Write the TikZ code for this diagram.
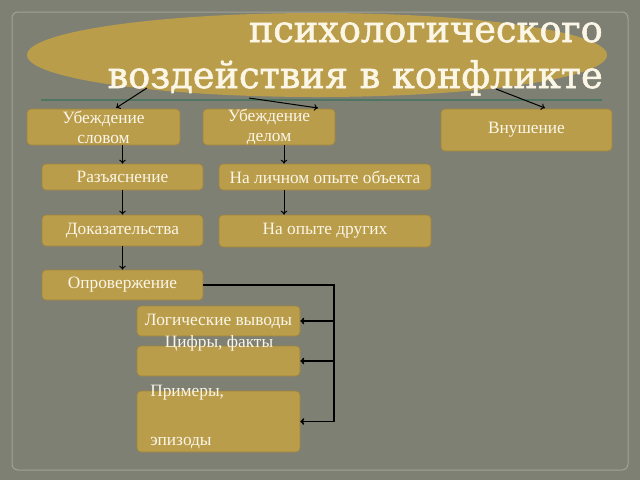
\documentclass[tikz,border=0pt]{standalone}
\usepackage{fontspec}
\setmainfont{Liberation Serif}
\newfontfamily\titlefont[FakeBold=1.6]{DejaVu Serif}
\usetikzlibrary{arrows.meta,shadows,calc,shapes.geometric}
\newlength\px
\setlength\px{0.75pt}
\definecolor{bgcol}{HTML}{7F8074}
\definecolor{framecol}{HTML}{A2A397}
\definecolor{gold}{HTML}{BA9D4B}
\definecolor{golddark}{HTML}{A08338}
\definecolor{cream}{HTML}{FBF6E6}
\definecolor{rulecol}{HTML}{4F7563}
\tikzset{
  plate/.style={rectangle,rounded corners=4\px,fill=gold,draw=golddark,
    drop shadow={shadow xshift=1\px,shadow yshift=-1.5\px,opacity=.35},
    text=cream,font=\fontsize{13}{15}\selectfont,align=center,inner sep=0pt},
  caption/.style={text=cream,font=\fontsize{13}{15}\selectfont,inner sep=0pt},
  link/.style={black,line width=1\px,-{To[length=3pt,width=5pt]}},
  bus/.style={black,line width=1.5\px}
}
\begin{document}
\begin{tikzpicture}[x=0.75pt,y=-0.75pt]
\useasboundingbox (0,0) rectangle (640,480);
\fill[bgcol] (0,0) rectangle (640,480);
\draw[framecol,line width=1\px,rounded corners=6\px] (12,12) rectangle (628,470);

\node[ellipse,fill=gold,minimum width=580\px,minimum height=84\px,inner sep=0pt] (oval) at (317,55) {};
\node[anchor=base east,text=cream,inner sep=0pt,font=\titlefont\fontsize{27.5}{30}\selectfont] (t1) at (603,42) {психологического};
\node[anchor=base east,text=cream,inner sep=0pt,font=\titlefont\fontsize{27.5}{30}\selectfont] (t2) at (603,88) {воздействия в конфликте};
\draw[rulecol,line width=1.5\px] (41,100) -- (602,100);

\node[plate,minimum width=153\px,minimum height=36\px] (slovom) at (103.5,127) {Убеждение\\словом};
\node[plate,minimum width=132\px,minimum height=36\px] (delom) at (269,127) {Убеждение\\делом};
\node[plate,minimum width=171\px,minimum height=42\px] (vnush) at (526.5,130) {Внушение};
\node[plate,minimum width=161\px,minimum height=26\px] (razyasn) at (122.5,177) {Разъяснение};
\node[plate,minimum width=212\px,minimum height=26\px] (lichnom) at (325,177) {На личном опыте объекта};
\node[plate,minimum width=161\px,minimum height=31\px] (dokaz) at (122.5,230.5) {Доказательства};
\node[plate,minimum width=212\px,minimum height=32\px] (drugih) at (325,231) {На опыте других};
\node[plate,minimum width=161\px,minimum height=30\px] (oproverzh) at (122.5,285) {Опровержение};
\node[plate,minimum width=163\px,minimum height=30\px] (logich) at (218.5,321) {Логические выводы};
\node[plate,minimum width=163\px,minimum height=30\px] (cifry) at (218.5,361) {};
\node[plate,minimum width=163\px,minimum height=61\px] (primery) at (218.5,421.5) {};
\node[caption] (cifrytxt) at (219,343) {Цифры, факты};
\node[caption,anchor=west] (primtxt) at (150,393) {Примеры,};
\node[caption,anchor=west] (epiztxt) at (150,443) {эпизоды};

\coordinate (o1) at (147,88);
\coordinate (o2) at (249,98);
\coordinate (o3) at (496,89);
\draw[link] (o1) -- (116,108);
\draw[link] (o2) -- (318,108);
\draw[link] (o3) -- (545,108);

\draw[link] (razyasn.north |- slovom.south) -- (razyasn.north);
\coordinate (d1) at ($(delom.south)+(15,0)$);
\draw[link] (d1) -- (d1 |- lichnom.north);
\draw[link] (razyasn.south) -- (dokaz.north);
\draw[link] (lichnom.south -| d1) -- (drugih.north -| d1);
\draw[link] (dokaz.south) -- (oproverzh.north);

\coordinate (knee) at (334,285);
\draw[bus] (oproverzh.east) -- (knee) -- (knee |- primery.east);
\draw[link,line width=1.5\px] (knee |- logich.east) -- (logich.east);
\draw[link,line width=1.5\px] (knee |- cifry.east) -- (cifry.east);
\draw[link,line width=1.5\px] (knee |- primery.east) -- (primery.east);
\end{tikzpicture}
\end{document}
